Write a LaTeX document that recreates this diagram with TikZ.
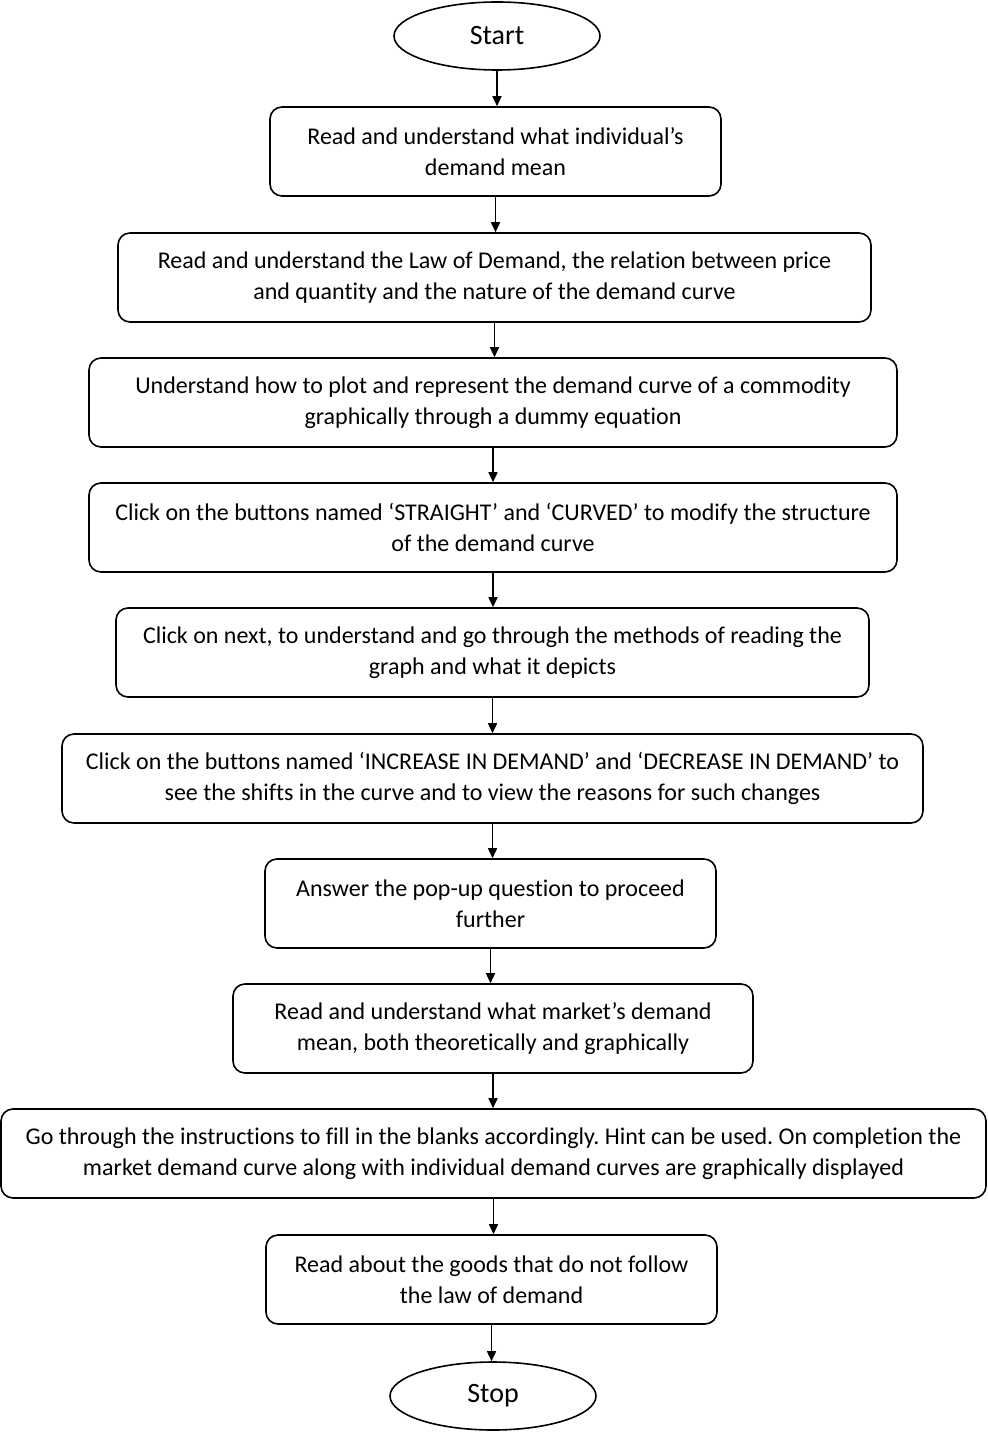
\documentclass[tikz,border=0pt]{standalone}
\usepackage{fontspec}
\setmainfont[Ligatures=NoCommon]{Carlito}
\usetikzlibrary{shapes.geometric,arrows.meta}
\frenchspacing

\begin{document}
\begin{tikzpicture}[x=0.5pt,y=-0.5pt,
    every node/.style={font=\fontsize{12}{15.5}\selectfont},
    stepbox/.style={draw, line width=0.8pt, rounded corners=6pt, minimum height=44.5pt, align=center, inner sep=0pt},
    term/.style={draw, line width=0.8pt, ellipse, minimum width=103pt, minimum height=34pt, inner sep=0pt, font=\fontsize{14}{16}\selectfont},
    flow/.style={line width=0.8pt, -{Triangle[length=5pt,width=4.5pt]}}]
    \useasboundingbox (0,0) rectangle (988,1454);
    % terminals and steps
    \node[term] (start) at (497, 36) {Start};
    \node[stepbox, minimum width=225.5pt] (indiv) at (495.5, 151.5)
      {Read and understand what individual’s\\demand mean};
    \node[stepbox, minimum width=376.5pt] (law) at (494.5, 277.5)
      {Read and understand the Law of Demand, the relation between price\\and quantity and the nature of the demand curve};
    \node[stepbox, minimum width=404pt] (plot) at (493, 402.5)
      {Understand how to plot and represent the demand curve of a commodity\\graphically through a dummy equation};
    \node[stepbox, minimum width=404pt] (shape) at (493, 527.5)
      {Click on the buttons named ‘STRAIGHT’ and ‘CURVED’ to modify the structure\\of the demand curve};
    \node[stepbox, minimum width=376.5pt] (graph) at (492.5, 652.5)
      {Click on next, to understand and go through the methods of reading the\\graph and what it depicts};
    \node[stepbox, minimum width=430.5pt] (shift) at (492.5, 778.5)
      {Click on the buttons named ‘INCREASE IN DEMAND’ and ‘DECREASE IN DEMAND’ to\\see the shifts in the curve and to view the reasons for such changes};
    \node[stepbox, minimum width=225.5pt] (quiz) at (490.5, 903.5)
      {Answer the pop-up question to proceed\\further};
    \node[stepbox, minimum width=260pt] (market) at (493, 1028.5)
      {Read and understand what market’s demand\\mean, both theoretically and graphically};
    \node[stepbox, minimum width=492.5pt] (blanks) at (493.5, 1153.5)
      {Go through the instructions to fill in the blanks accordingly. Hint can be used. On completion the\\market demand curve along with individual demand curves are graphically displayed};
    \node[stepbox, minimum width=225.5pt] (goods) at (491.5, 1279.5)
      {Read about the goods that do not follow\\the law of demand};
    \node[term] (stop) at (493, 1396) {Stop};
    % connectors
    \draw[flow] (start) -- (start |- indiv.north);
    \draw[flow] (indiv) -- (indiv |- law.north);
    \draw[flow] (law) -- (law |- plot.north);
    \draw[flow] (plot) -- (plot |- shape.north);
    \draw[flow] (shape) -- (shape |- graph.north);
    \draw[flow] (graph) -- (graph |- shift.north);
    \draw[flow] (shift) -- (shift |- quiz.north);
    \draw[flow] (quiz) -- (quiz |- market.north);
    \draw[flow] (market) -- (market |- blanks.north);
    \draw[flow] (blanks) -- (blanks |- goods.north);
    \draw[flow] (goods) -- (goods |- stop.north);
\end{tikzpicture}
\end{document}
